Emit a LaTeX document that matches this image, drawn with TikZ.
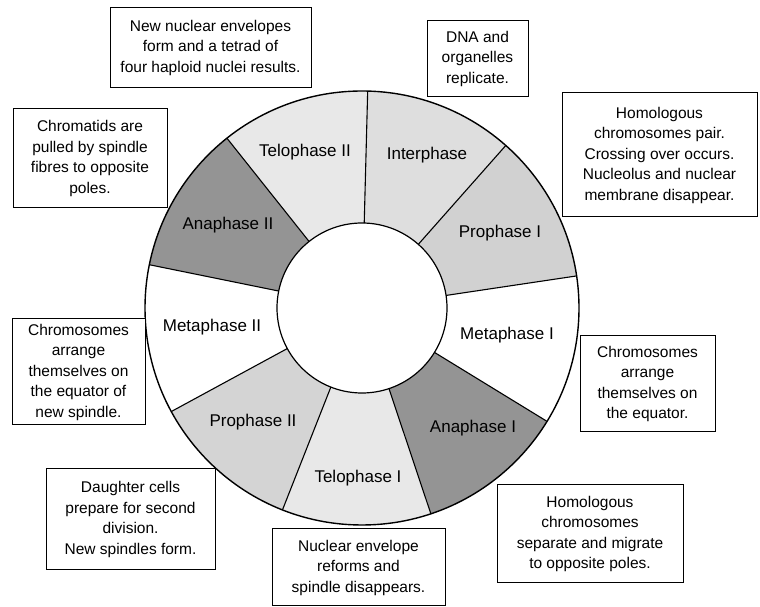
\documentclass[tikz,border=0pt]{standalone}
\usepackage{fontspec}
\setmainfont{Liberation Sans}
\begin{document}
\begin{tikzpicture}[x=1pt,y=1pt,
  phase/.style={font=\fontsize{17}{20}\selectfont, inner sep=0pt},
  note/.style={draw, fill=white, line width=1pt, align=center, inner sep=0pt,
               font=\fontsize{15.5}{20.5}\selectfont},
  spoke/.style={line width=1.1pt},
  rim/.style={line width=1.4pt}
]
\useasboundingbox (0,0) rectangle (760,607);
\coordinate (c) at (362,299);

% sector shading, clockwise from the top
\foreach \a/\col in {88.5/black!13, 48.5/black!18, 8.5/white, -31.5/black!42,
                     -71.5/black!9, -111.5/black!17, -151.5/white,
                     -191.5/black!42, -231.5/black!9}
  \fill[\col] (c) -- ++(\a:217) arc[start angle=\a, delta angle=-40, radius=217] -- cycle;

% hub and rims
\fill[white] (c) circle[radius=85];
\draw[rim] (c) circle[radius=217];
\draw[line width=1.2pt] (c) circle[radius=85];
\foreach \a in {88.5,48.5,8.5,-31.5,-71.5,-111.5,-151.5,-191.5,-231.5}
  \draw[spoke] ([shift={(\a:85)}]c) -- ([shift={(\a:217)}]c);

% phase names
\node[phase] (inter)  at (427,452) {Interphase};
\node[phase] (pro1)   at (500,374) {Prophase I};
\node[phase] (meta1)  at (507,272) {Metaphase I};
\node[phase] (ana1)   at (473,179) {Anaphase I};
\node[phase] (telo1)  at (358,129) {Telophase I};
\node[phase] (pro2)   at (253,185) {Prophase II};
\node[phase] (meta2)  at (212,280) {Metaphase II};
\node[phase] (ana2)   at (228,382) {Anaphase II};
\node[phase] (telo2)  at (305,455) {Telophase II};

% descriptions
\node[note, minimum width=201, minimum height=80] (dtelo2) at (210.5,559)
  {New nuclear envelopes\\form and a tetrad of\\four haploid nuclei results.};
\node[note, minimum width=101, minimum height=76] (dinter) at (477.5,548)
  {DNA and\\organelles\\replicate.};
\node[note, minimum width=195, minimum height=124] (dpro1) at (659.5,452)
  {Homologous\\chromosomes pair.\\Crossing over occurs.\\Nucleolus and nuclear\\membrane disappear.};
\node[note, minimum width=154, minimum height=99] (dana2) at (90,448.5)
  {Chromatids are\\pulled by spindle\\fibres to opposite\\poles.};
\node[note, minimum width=133, minimum height=106] (dmeta2) at (78.5,235)
  {Chromosomes\\arrange\\themselves on\\the equator of\\new spindle.};
\node[note, minimum width=135, minimum height=96] (dmeta1) at (647.5,223)
  {Chromosomes\\arrange\\themselves on\\the equator.};
\node[note, minimum width=169, minimum height=101] (dpro2) at (130.5,87.5)
  {Daughter cells\\prepare for second\\division.\\New spindles form.};
\node[note, minimum width=173, minimum height=77] (dtelo1) at (358.5,39.5)
  {Nuclear envelope\\reforms and\\spindle disappears.};
\node[note, minimum width=186, minimum height=98] (dana1) at (590,73)
  {Homologous\\chromosomes\\separate and migrate\\to opposite poles.};
\end{tikzpicture}
\end{document}
